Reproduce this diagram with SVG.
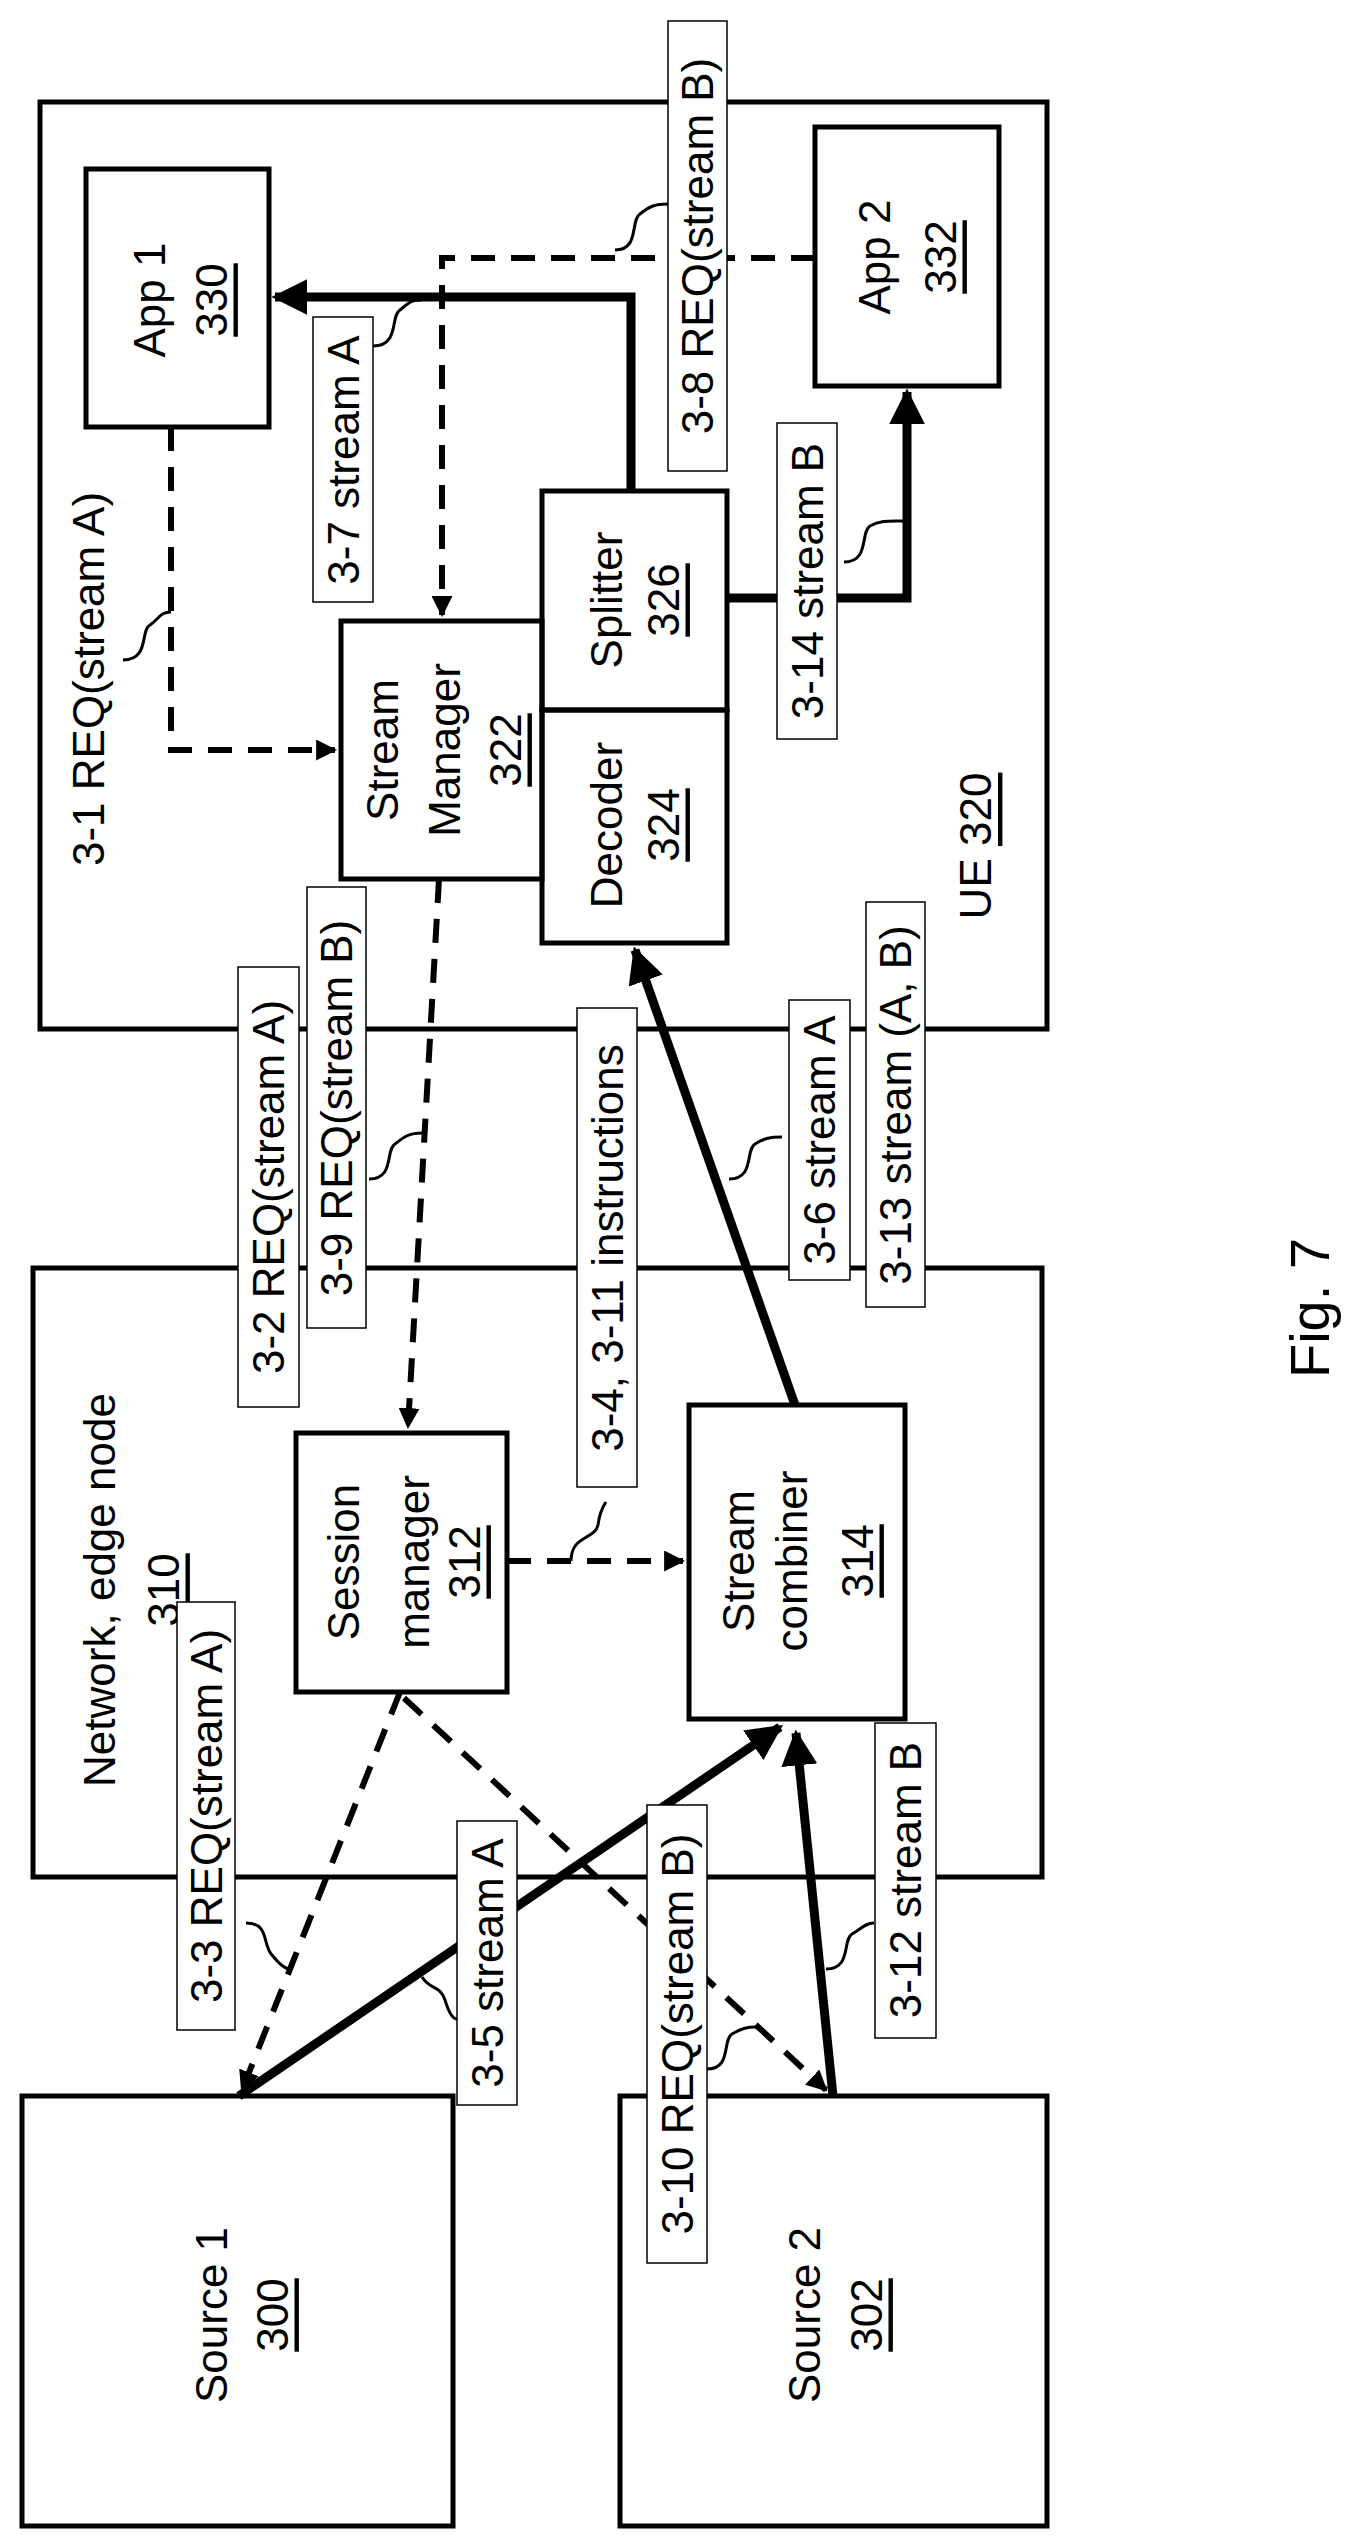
<svg xmlns="http://www.w3.org/2000/svg" width="1357" height="2544" viewBox="0 0 1357 2544">
<style>
text{font-family:"Liberation Sans",Arial,sans-serif;font-size:44px;fill:#000;text-anchor:middle;dominant-baseline:central}
.box{fill:none;stroke:#000;stroke-width:5}
.lb{fill:#fff;stroke:#000;stroke-width:1.5}
.u{text-decoration:underline}
.th{fill:none;stroke:#000;stroke-width:9}
.da{fill:none;stroke:#000;stroke-width:6;stroke-dasharray:24,16}
.sq{fill:none;stroke:#000;stroke-width:3}
</style>
<defs>
<marker id="ah" viewBox="0 0 10 10" refX="9" refY="5" markerWidth="4" markerHeight="4" orient="auto" markerUnits="strokeWidth"><path d="M0,0L10,5L0,10z"/></marker>
<marker id="ad" viewBox="0 0 10 10" refX="9" refY="5" markerWidth="3.5" markerHeight="3.5" orient="auto" markerUnits="strokeWidth"><path d="M0,0L10,5L0,10z"/></marker>
</defs>
<rect x="0" y="0" width="1357" height="2544" fill="#fff"/>
<g id="ue"><rect class="box" x="40" y="102" width="1007" height="927"/><text transform="translate(975,846) rotate(-90)">UE <tspan class="u">320</tspan></text></g>
<g id="network"><rect class="box" x="33" y="1268" width="1009" height="609"/><text transform="translate(99,1590) rotate(-90)">Network,  edge node</text><text class="u" transform="translate(163,1590) rotate(-90)">310</text></g>
<g id="app1"><rect class="box" x="86" y="169" width="183" height="258"/><text transform="translate(149,300) rotate(-90)">App 1</text><text class="u" transform="translate(211,300) rotate(-90)">330</text></g>
<g id="app2"><rect class="box" x="815" y="127" width="184" height="259"/><text transform="translate(874,257) rotate(-90)">App 2</text><text class="u" transform="translate(940,257) rotate(-90)">332</text></g>
<g id="sm322"><rect class="box" x="341" y="621" width="201" height="258"/><text transform="translate(382,750) rotate(-90)">Stream</text><text transform="translate(444,750) rotate(-90)">Manager</text><text class="u" transform="translate(505,750) rotate(-90)">322</text></g>
<g id="splitter"><rect class="box" x="542" y="491" width="185" height="219"/><text transform="translate(606,600) rotate(-90)">Splitter</text><text class="u" transform="translate(663,600) rotate(-90)">326</text></g>
<g id="decoder"><rect class="box" x="542" y="710" width="185" height="233"/><text transform="translate(606,825) rotate(-90)">Decoder</text><text class="u" transform="translate(663,825) rotate(-90)">324</text></g>
<g id="session"><rect class="box" x="296" y="1433" width="211" height="259"/><text transform="translate(343,1562) rotate(-90)">Session</text><text transform="translate(413,1562) rotate(-90)">manager</text><text class="u" transform="translate(464,1562) rotate(-90)">312</text></g>
<g id="combiner"><rect class="box" x="689" y="1405" width="216" height="314"/><text transform="translate(738,1561) rotate(-90)">Stream</text><text transform="translate(791,1561) rotate(-90)">combiner</text><text class="u" transform="translate(857,1561) rotate(-90)">314</text></g>
<g id="source1"><rect class="box" x="22" y="2096" width="431" height="430"/><text transform="translate(211,2315) rotate(-90)">Source 1</text><text class="u" transform="translate(272,2315) rotate(-90)">300</text></g>
<g id="source2"><rect class="box" x="620" y="2096" width="427" height="430"/><text transform="translate(804,2315) rotate(-90)">Source 2</text><text class="u" transform="translate(866,2315) rotate(-90)">302</text></g>
<g id="connectors">
<path class="da" d="M171,427V750H335" marker-end="url(#ad)"/>
<path class="da" d="M815,258H442V615" marker-end="url(#ad)"/>
<path class="th" d="M631,491V297H275" marker-end="url(#ah)"/>
<path class="th" d="M727,598H907V392" marker-end="url(#ah)"/>
<path class="da" d="M439,879L408,1427" marker-end="url(#ad)"/>
<path class="da" d="M507,1561H683" marker-end="url(#ad)"/>
<path class="th" d="M795,1405L635,950" marker-end="url(#ah)"/>
<path class="da" d="M400,1692L242,2090" marker-end="url(#ad)"/>
<path class="th" d="M239,2096L780,1727" marker-end="url(#ah)"/>
<path class="da" d="M404,1698L826,2090" marker-end="url(#ad)"/>
<path class="th" d="M833,2096L796,1733" marker-end="url(#ah)"/>
<path class="sq" d="M123,660C150,660 140,630 150,625C160,618 160,612 171,612"/>
<path class="sq" d="M373,346C400,346 390,316 400,310C410,302 410,300 422,300"/>
<path class="sq" d="M615,250C640,250 630,220 640,214C650,206 655,204 668,204"/>
<path class="sq" d="M844,562C870,562 860,532 870,526C880,520 890,521 905,521"/>
<path class="sq" d="M369,1179C395,1179 385,1150 395,1144C405,1136 410,1133 422,1133"/>
<path class="sq" d="M729,1179C755,1179 745,1150 755,1144C765,1138 770,1137 782,1137"/>
<path class="sq" d="M571,1561C571,1535 595,1540 598,1525C600,1510 604,1505 606,1502"/>
<path class="sq" d="M246,1923C270,1923 262,1945 272,1955C280,1965 285,1969 290,1969"/>
<path class="sq" d="M422,1977C430,1990 440,1985 445,2000C448,2010 452,2019 457,2019"/>
<path class="sq" d="M707,2069C732,2069 722,2040 732,2034C742,2028 748,2027 756,2027"/>
<path class="sq" d="M826,1969C852,1969 842,1940 852,1934C862,1928 866,1923 874,1923"/>
</g>
<g id="labels">
<text transform="translate(88,679) rotate(-90)">3-1 REQ(stream A)</text>
<rect class="lb" x="668" y="21" width="59" height="450"/><text transform="translate(697,246) rotate(-90)">3-8 REQ(stream B)</text>
<rect class="lb" x="313" y="317" width="60" height="285"/><text transform="translate(343,460) rotate(-90)">3-7 stream A</text>
<rect class="lb" x="777" y="423" width="60" height="316"/><text transform="translate(807,581) rotate(-90)">3-14 stream B</text>
<rect class="lb" x="238" y="967" width="61" height="440"/><text transform="translate(268,1187) rotate(-90)">3-2 REQ(stream A)</text>
<rect class="lb" x="307" y="887" width="59" height="441"/><text transform="translate(336,1108) rotate(-90)">3-9 REQ(stream B)</text>
<rect class="lb" x="577" y="1008" width="60" height="479"/><text transform="translate(607,1248) rotate(-90)">3-4, 3-11 instructions</text>
<rect class="lb" x="789" y="1000" width="61" height="280"/><text transform="translate(819,1140) rotate(-90)">3-6 stream A</text>
<rect class="lb" x="866" y="902" width="59" height="405"/><text transform="translate(895,1105) rotate(-90)">3-13 stream (A, B)</text>
<rect class="lb" x="177" y="1602" width="58" height="428"/><text transform="translate(206,1816) rotate(-90)">3-3 REQ(stream A)</text>
<rect class="lb" x="457" y="1821" width="60" height="284"/><text transform="translate(487,1963) rotate(-90)">3-5 stream A</text>
<rect class="lb" x="647" y="1805" width="60" height="458"/><text transform="translate(677,2034) rotate(-90)">3-10 REQ(stream B)</text>
<rect class="lb" x="875" y="1723" width="61" height="315"/><text transform="translate(905,1880) rotate(-90)">3-12 stream B</text>
<text style="font-size:56px" transform="translate(1309,1308) rotate(-90)">Fig. 7</text>
</g>
</svg>
